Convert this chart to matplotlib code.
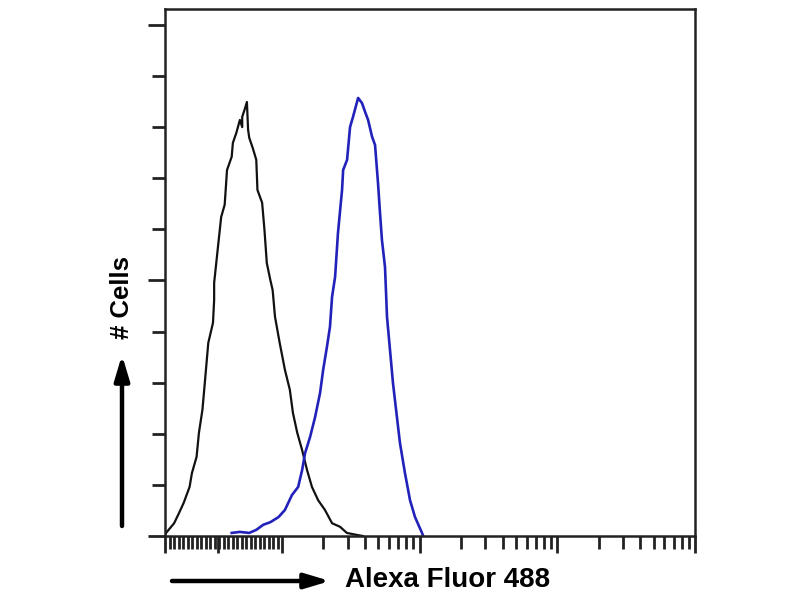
import numpy as np
import matplotlib
matplotlib.use("Agg")
import matplotlib.pyplot as plt

# black (control) histogram: fluorescence value, cell count
ctrl_x = [0, 0.09, 0.78, 1.2, 1.6, 2.1, 2.3, 2.7, 2.9, 3.2, 3.4, 3.7, 4.1, 4.2, 4.2,
          4.5, 4.8, 5.1, 5.3, 5.7, 5.8, 6.1, 6.4, 6.6, 6.6, 6.8, 7.0, 7.1, 7.2, 7.5,
          7.8, 7.9, 8.3, 8.5, 8.7, 9.0, 9.2, 9.4, 9.8, 10.5, 11.4, 12.0, 12.9, 14.0,
          15.2, 16.5, 18.3, 20.5, 23.1, 26.4, 29.6, 35.1, 38.7]
ctrl_y = [0, 0.6, 2.5, 4.5, 6.5, 9.6, 12.3, 15.5, 20.2, 24.7, 29.9, 37.8, 41.7, 46.2, 49.5,
          56.0, 62.4, 64.8, 71.6, 74.2, 76.9, 78.9, 81.4, 80.0, 82.0, 83.4, 84.9, 79.5, 77.9, 75.9,
          73.6, 67.7, 65.2, 59.9, 53.4, 50.1, 48.1, 42.9, 37.8, 32.5, 28.6, 24.1, 20.2, 16.8,
          12.9, 9.6, 7.0, 5.1, 2.5, 1.8, 0.6, 0.2, 0]

# blue (stained) histogram
stain_x = [5.7, 6.4, 7.2, 7.8, 8.4, 9.0, 9.7, 10.5, 11.8, 13.1, 14.0, 14.7, 16.0, 17.4,
           18.9, 19.9, 21.2, 22.3, 23.1, 24.3, 25.5, 27.3, 27.8, 29.7, 31.2, 32.8, 35.7,
           38.1, 40.1, 42.2, 45.1, 47.4, 49.8, 51.5, 53.2, 56.0, 57.9, 64.0, 71.9, 78.2,
           85.1, 92.5, 104, 106]
stain_y = [0.6, 0.8, 0.6, 1.2, 2.2, 2.7, 3.7, 5.1, 8.0, 9.6, 12.9, 16.2, 19.4, 23.3,
           28.0, 32.5, 37.0, 40.9, 46.8, 50.7, 59.3, 67.7, 71.6, 73.6, 80.0, 82.0, 85.7,
           84.7, 83.0, 81.4, 78.1, 76.5, 69.1, 63.2, 57.9, 52.6, 42.9, 29.9, 18.2, 12.3,
           7.0, 3.7, 0.6, 0]

fig = plt.figure(figsize=(8, 6), dpi=100)
ax = fig.add_axes([165 / 800, 1 - 536 / 600, 530 / 800, 527 / 600])

ax.plot(ctrl_x, ctrl_y, color="#111111", lw=1.6)
ax.plot(stain_x, stain_y, color="#2222bb", lw=1.9)

ax.set_xscale("symlog", linthresh=10, linscale=0.765)
ax.set_xlim(0, 10000)
ax.set_ylim(0, 103.1)

# x ticks: linear part + log decades
ax.set_xticks([0, 4.5, 10, 100, 1000, 10000])
minor = list(np.linspace(0, 10, 27))
for d in [10, 100, 1000]:
    minor += [d * k for k in range(2, 10)]
ax.set_xticks(minor, minor=True)
ax.set_yticks([0, 50, 100])
ax.set_yticks([10, 20, 30, 40, 60, 70, 80, 90], minor=True)
ax.set_xticklabels([])
ax.set_yticklabels([])
ax.tick_params(which="major", length=12.5, width=2, direction="out", color="#222222")
ax.tick_params(which="minor", length=9.5, width=2, direction="out", color="#222222")
for s in ax.spines.values():
    s.set_linewidth(1.8)
    s.set_color("#222222")

# axis labels with arrows
fig.text(122 / 800, 1 - 298 / 600, "# Cells", rotation=90, ha="center", va="center",
         fontsize=18.5, fontweight="bold", family="Liberation Sans")
fig.text(448 / 800, 1 - 580 / 600, "Alexa Fluor 488", ha="center", va="center",
         fontsize=20, fontweight="bold", family="Liberation Sans")
arrow = dict(arrowstyle="-|>,head_length=1.5,head_width=0.45", lw=3.2, color="black",
             shrinkA=0, shrinkB=0)
ax.annotate("", xy=(122 / 800, 1 - 355 / 600), xytext=(122 / 800, 1 - 526 / 600),
            xycoords="figure fraction", textcoords="figure fraction", arrowprops=arrow)
ax.annotate("", xy=(330 / 800, 1 - 581 / 600), xytext=(172 / 800, 1 - 581 / 600),
            xycoords="figure fraction", textcoords="figure fraction", arrowprops=arrow)

fig.savefig("out.png", dpi=100)
